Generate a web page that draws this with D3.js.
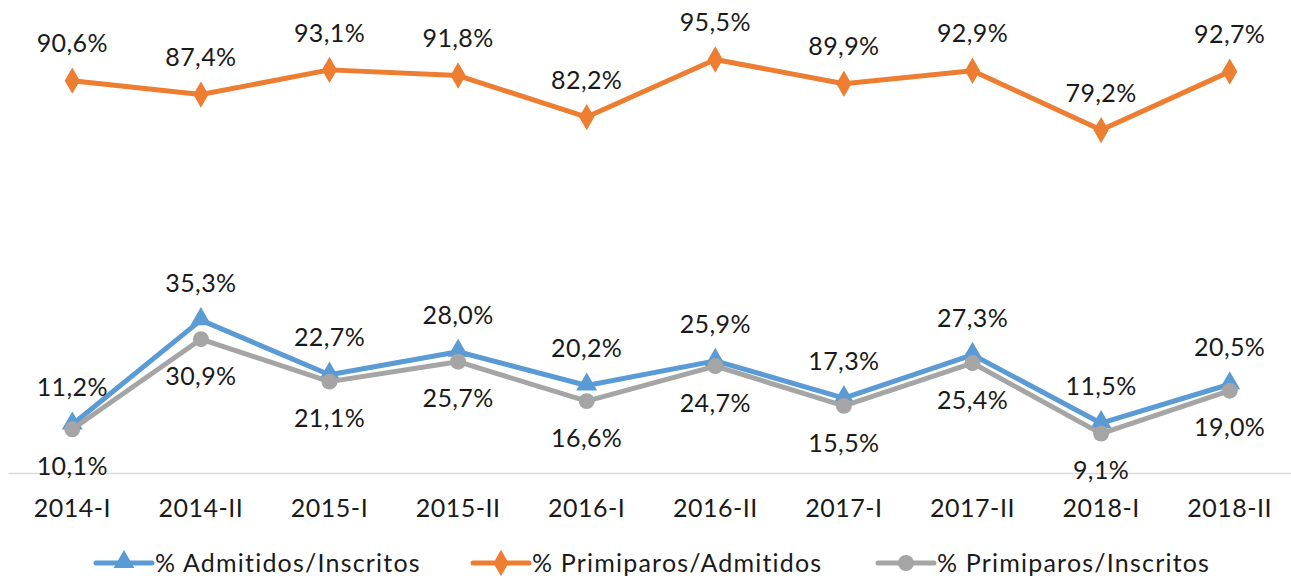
<!DOCTYPE html>
<html>
<head>
<meta charset="utf-8">
<script src="https://cdn.jsdelivr.net/npm/d3@7"></script>
<style>
  body { margin: 0; background: #fff; }
  svg text { font-family: Lato, "Open Sans", sans-serif; fill: #1a1a1a; }
</style>
</head>
<body>
<svg id="chart"></svg>
<script>
// --- dados ---
const periodos = ["2014-I", "2014-II", "2015-I", "2015-II", "2016-I", "2016-II", "2017-I", "2017-II", "2018-I", "2018-II"];
const admitidosInscritos = [11.2, 35.3, 22.7, 28.0, 20.2, 25.9, 17.3, 27.3, 11.5, 20.5];
const primiparosAdmitidos = [90.6, 87.4, 93.1, 91.8, 82.2, 95.5, 89.9, 92.9, 79.2, 92.7];
const primiparosInscritos = [10.1, 30.9, 21.1, 25.7, 16.6, 24.7, 15.5, 25.4, 9.1, 19.0];

const series = [
  { nome: "% Admitidos/Inscritos", valores: admitidosInscritos, cor: "#5B9BD5", simbolo: d3.symbolTriangle, tam: 190, label: "above" },
  { nome: "% Primiparos/Admitidos", valores: primiparosAdmitidos, cor: "#ED7D31", simbolo: d3.symbolDiamond, tam: 200, label: "above" },
  { nome: "% Primiparos/Inscritos", valores: primiparosInscritos, cor: "#A5A5A5", simbolo: d3.symbolCircle, tam: 200, label: "below" }
];

const W = 1291, H = 578;
const svg = d3.select("#chart").attr("width", W).attr("height", H);

// --- escalas ---
const x = d3.scaleBand().domain(periodos).range([8, 1294]).padding(0);
const y = d3.scaleLinear().domain([0, 100]).range([473, 40]);
const cx = p => x(p) + x.bandwidth() / 2;

// --- eixo X ---
const xAxis = svg.append("g")
  .attr("transform", `translate(0,${y(0)})`)
  .call(d3.axisBottom(x).tickSize(0).tickSizeOuter(0));
xAxis.select(".domain").attr("stroke", "#D9D9D9").attr("stroke-width", 1.5);
xAxis.selectAll("text")
  .attr("y", 35).attr("dy", "0.35em")
  .style("font-size", "25px")
  .style("font-family", "Lato, 'Open Sans', sans-serif")
  .style("letter-spacing", "0.5px")
  .attr("fill", "#1a1a1a");

const fmt = v => v.toFixed(1).replace(".", ",") + "%";

// --- linhas e marcadores ---
series.forEach(s => {
  const pts = periodos.map((p, i) => ({ p, v: s.valores[i] }));
  const line = d3.line().x(d => cx(d.p)).y(d => y(d.v));

  svg.append("path")
    .datum(pts)
    .attr("d", line)
    .attr("fill", "none")
    .attr("stroke", s.cor)
    .attr("stroke-width", 5)
    .attr("stroke-linejoin", "round");

  svg.selectAll(null)
    .data(pts)
    .enter()
    .append("path")
    .attr("d", d3.symbol().type(s.simbolo).size(s.tam))
    .attr("transform", d => `translate(${cx(d.p)},${y(d.v) + (s.simbolo === d3.symbolTriangle ? -1 : 0)})`)
    .attr("fill", s.cor);
});

// --- rótulos ---
series.forEach(s => {
  const pts = periodos.map((p, i) => ({ p, v: s.valores[i] }));
  svg.selectAll(null)
    .data(pts)
    .enter()
    .append("text")
    .attr("x", d => cx(d.p))
    .attr("y", d => y(d.v) + (s.label === "above" ? -37 : 37))
    .attr("dy", "0.35em")
    .attr("text-anchor", "middle")
    .style("font-size", "25px")
    .style("letter-spacing", "0.4px")
    .text(d => fmt(d.v));
});

// --- legenda ---
const legendX = [96, 473, 878];
const legend = svg.selectAll(".legend-item")
  .data(series)
  .enter()
  .append("g")
  .attr("class", "legend-item")
  .attr("transform", (d, i) => `translate(${legendX[i]},563)`);

legend.append("line")
  .attr("x1", 0).attr("x2", 56)
  .attr("stroke", d => d.cor)
  .attr("stroke-width", 5)
  .attr("stroke-linecap", "round");

legend.append("path")
  .attr("d", d => d3.symbol().type(d.simbolo).size(d.tam)())
  .attr("transform", d => `translate(28,${d.simbolo === d3.symbolTriangle ? -1 : 0})`)
  .attr("fill", d => d.cor);

legend.append("text")
  .attr("x", 59)
  .attr("dy", "0.35em")
  .style("font-size", "25px")
  .style("letter-spacing", "1.2px")
  .text(d => d.nome);
</script>
</body>
</html>
